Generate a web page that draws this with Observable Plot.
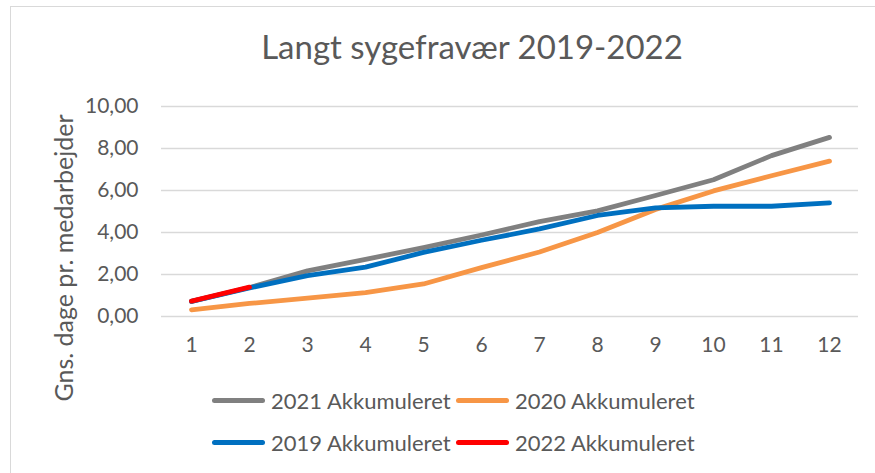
<!DOCTYPE html>
<html>
<head>
<meta charset="utf-8">
<script src="https://cdn.jsdelivr.net/npm/d3@7"></script>
<script src="https://cdn.jsdelivr.net/npm/@observablehq/plot@0.6"></script>
<style>
  html, body { margin: 0; padding: 0; background: #fff; }
  #wrap { position: relative; width: 875px; height: 473px; overflow: hidden; background: #fff; font-family: Lato, "Open Sans", sans-serif; color: #595959; }
  #frame { position: absolute; left: 10px; top: 6px; width: 900px; height: 500px; border: 1.5px solid #d9d9d9; box-sizing: border-box; }
  #title { position: absolute; left: 0; top: 26px; width: 944px; text-align: center; font-size: 33px; white-space: nowrap; }
  #ylabel { position: absolute; left: 63px; top: 258px; transform: translate(-50%, -50%) rotate(-90deg); font-size: 25px; white-space: nowrap; }
  #chart { position: absolute; left: 0; top: 0; }
  .leg { position: absolute; display: flex; align-items: center; font-size: 22px; white-space: nowrap; }
  .sw { width: 53px; height: 5px; border-radius: 3px; margin-right: 6px; }
</style>
</head>
<body>
<div id="wrap">
  <div id="frame"></div>
  <div id="chart"></div>
  <div id="title"></div>
  <div id="ylabel"></div>
  <div id="legend"></div>
</div>
<script>
// ---- data ----
const months = [1, 2, 3, 4, 5, 6, 7, 8, 9, 10, 11, 12];
const s2021 = [0.72, 1.38, 2.17, 2.72, 3.28, 3.88, 4.52, 5.03, 5.76, 6.51, 7.66, 8.53];
const s2020 = [0.32, 0.62, 0.88, 1.14, 1.55, 2.33, 3.07, 4.00, 5.10, 5.98, 6.70, 7.40];
const s2019 = [0.72, 1.36, 1.95, 2.35, 3.05, 3.63, 4.17, 4.81, 5.17, 5.25, 5.25, 5.41];
const s2022 = [0.73, 1.40];
const seriesNames = ["2021 Akkumuleret", "2020 Akkumuleret", "2019 Akkumuleret", "2022 Akkumuleret"];
const seriesColors = ["#808080", "#F79646", "#0070C0", "#FF0000"];
const yTicks = [0, 2, 4, 6, 8, 10];
const titleText = "Langt sygefravær 2019-2022";
const yLabelText = "Gns. dage pr. medarbejder";

const allSeries = [s2021, s2020, s2019, s2022];
const rows = [];
allSeries.forEach((vals, i) => {
  vals.forEach((v, j) => rows.push({ series: seriesNames[i], month: months[j], value: v }));
});

document.getElementById("title").textContent = titleText;
document.getElementById("ylabel").textContent = yLabelText;

const fmt = d => d.toFixed(2).replace(".", ",");

const chart = Plot.plot({
  width: 875,
  height: 473,
  marginLeft: 161,
  marginRight: 17,
  marginTop: 106,
  marginBottom: 157,
  style: { fontFamily: "Lato, 'Open Sans', sans-serif", fontSize: "21px", color: "#595959", background: "transparent", overflow: "visible" },
  x: { type: "point", domain: months, padding: 0.5 },
  y: { domain: [0, 10] },
  color: { domain: seriesNames, range: seriesColors },
  marks: [
    Plot.gridY(yTicks, { stroke: "#d9d9d9", strokeOpacity: 1, strokeWidth: 1.3 }),
    Plot.axisY(yTicks, { tickSize: 0, tickPadding: 23, tickFormat: fmt, label: null, fontSize: 21 }),
    Plot.axisX(months, { tickSize: 0, tickPadding: 21, label: null, fontSize: 21 }),
    ...seriesNames.map(name =>
      Plot.line(rows.filter(r => r.series === name), {
        x: "month", y: "value", stroke: "series",
        strokeWidth: 4.8, strokeLinecap: "round", strokeLinejoin: "round", curve: "linear"
      })
    )
  ]
});
document.getElementById("chart").appendChild(chart);

// legend
const legendPos = [
  { left: 212, top: 400 }, { left: 456, top: 400 },
  { left: 212, top: 442 }, { left: 456, top: 442 }
];
const legend = document.getElementById("legend");
seriesNames.forEach((name, i) => {
  const d = document.createElement("div");
  d.className = "leg";
  d.style.left = legendPos[i].left + "px";
  d.style.top = (legendPos[i].top - 14) + "px";
  d.style.height = "28px";
  const sw = document.createElement("div");
  sw.className = "sw";
  sw.style.background = seriesColors[i];
  const t = document.createElement("span");
  t.textContent = name;
  d.appendChild(sw);
  d.appendChild(t);
  legend.appendChild(d);
});
</script>
</body>
</html>
